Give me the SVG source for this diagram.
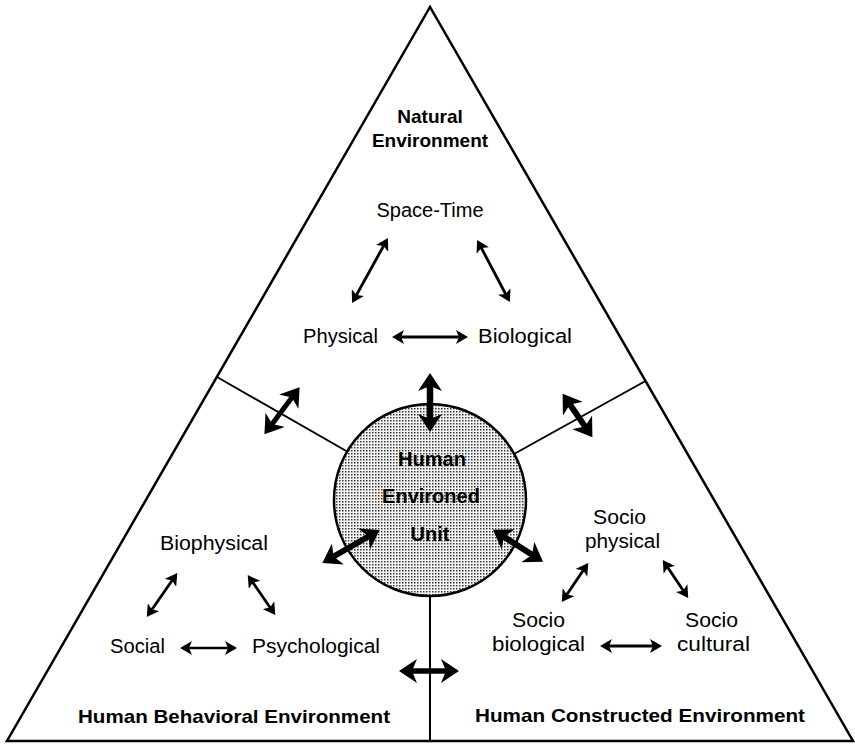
<svg xmlns="http://www.w3.org/2000/svg" width="855" height="748" viewBox="0 0 855 748">
  <style>
    .t { font-family: "Liberation Sans", Arial, sans-serif; font-size: 20px; fill: #000; }
    .b { font-family: "Liberation Sans", Arial, sans-serif; font-size: 19px; font-weight: bold; fill: #000; }
    .c { font-family: "Liberation Sans", Arial, sans-serif; font-size: 20px; font-weight: bold; fill: #000; }
    .frame { fill: none; stroke: #000; stroke-width: 2.5; stroke-linejoin: miter; }
    .div { fill: none; stroke: #000; stroke-width: 2; }
    .thin { stroke: #000; stroke-width: 2.8; fill: none; marker-start: url(#hs); marker-end: url(#hs); }
    .thick { stroke: #000; stroke-width: 6; fill: none; marker-start: url(#hb); marker-end: url(#hb); }
  </style>
  <defs>
    <marker id="hs" markerUnits="userSpaceOnUse" viewBox="0 0 12 14" markerWidth="12" markerHeight="14" refX="8" refY="7" orient="auto-start-reverse">
      <path d="M0,0 L12,7 L0,14 L3,7 Z" fill="#000"/>
    </marker>
    <marker id="hb" markerUnits="userSpaceOnUse" viewBox="0 0 18 24" markerWidth="18" markerHeight="24" refX="12" refY="12" orient="auto-start-reverse">
      <path d="M0,0 L18,12 L0,24 L5,12 Z" fill="#000"/>
    </marker>
    <pattern id="dots" patternUnits="userSpaceOnUse" width="3" height="3">
      <rect width="3" height="3" fill="#f4f4f4"/>
      <rect width="1.5" height="1.5" fill="#3a3a3a"/>
    </pattern>
  </defs>
  <rect width="855" height="748" fill="#fff"/>

  <g id="frame">
    <polygon class="frame" points="430,7 7,741 853,741"/>
    <line class="div" x1="217" y1="377" x2="348" y2="452"/>
    <line class="div" x1="645.5" y1="381" x2="514" y2="454"/>
    <line class="div" x1="430" y1="596" x2="430" y2="741"/>
  </g>

  <g id="natural-environment">
    <text class="b" x="430" y="123" text-anchor="middle">Natural</text>
    <text class="b" x="430" y="147" text-anchor="middle">Environment</text>
  </g>
  <g id="space-time">
    <text class="t" x="430" y="217" text-anchor="middle">Space-Time</text>
  </g>
  <g id="physical">
    <text class="t" x="303" y="343" textLength="75" lengthAdjust="spacingAndGlyphs">Physical</text>
  </g>
  <g id="biological">
    <text class="t" x="478" y="343" textLength="94" lengthAdjust="spacingAndGlyphs">Biological</text>
  </g>

  <g id="human-environed-unit">
    <circle cx="430" cy="500" r="96" fill="url(#dots)" stroke="#000" stroke-width="2.5"/>
    <text class="c" x="432" y="466" text-anchor="middle">Human</text>
    <text class="c" x="431" y="503" text-anchor="middle">Environed</text>
    <text class="c" x="430" y="541" text-anchor="middle">Unit</text>
  </g>

  <g id="biophysical">
    <text class="t" x="160" y="550" textLength="108" lengthAdjust="spacingAndGlyphs">Biophysical</text>
  </g>
  <g id="social">
    <text class="t" x="110" y="653" textLength="55" lengthAdjust="spacingAndGlyphs">Social</text>
  </g>
  <g id="psychological">
    <text class="t" x="252" y="653" textLength="128" lengthAdjust="spacingAndGlyphs">Psychological</text>
  </g>
  <g id="human-behavioral-environment">
    <text class="b" x="78" y="723" textLength="312" lengthAdjust="spacingAndGlyphs">Human Behavioral Environment</text>
  </g>

  <g id="socio-physical">
    <text class="t" x="593" y="524" textLength="53" lengthAdjust="spacingAndGlyphs">Socio</text>
    <text class="t" x="585" y="548" textLength="75" lengthAdjust="spacingAndGlyphs">physical</text>
  </g>
  <g id="socio-biological">
    <text class="t" x="512" y="627" textLength="53" lengthAdjust="spacingAndGlyphs">Socio</text>
    <text class="t" x="492" y="651" textLength="93" lengthAdjust="spacingAndGlyphs">biological</text>
  </g>
  <g id="socio-cultural">
    <text class="t" x="685" y="627" textLength="53" lengthAdjust="spacingAndGlyphs">Socio</text>
    <text class="t" x="677" y="651" textLength="73" lengthAdjust="spacingAndGlyphs">cultural</text>
  </g>
  <g id="human-constructed-environment">
    <text class="b" x="475" y="722" textLength="330" lengthAdjust="spacingAndGlyphs">Human Constructed Environment</text>
  </g>

  <g id="connectors">
    <line class="thin" x1="386" y1="241.5" x2="354" y2="299.5"/>
    <line class="thin" x1="479" y1="243.5" x2="508" y2="298.5"/>
    <line class="thin" x1="396" y1="337" x2="464" y2="337"/>
    <line class="thin" x1="175" y1="576.3" x2="149" y2="613.7"/>
    <line class="thin" x1="250" y1="578.3" x2="273" y2="611.7"/>
    <line class="thin" x1="184" y1="648" x2="233" y2="648" style="stroke-width:2.4"/>
    <line class="thin" x1="586" y1="566.3" x2="564" y2="598.7"/>
    <line class="thin" x1="665" y1="563.3" x2="686" y2="594.7"/>
    <line class="thin" x1="604" y1="646" x2="658" y2="646"/>
    <line class="thick" x1="430" y1="379" x2="430" y2="426" style="stroke-width:6.5"/>
    <line class="thick" x1="296" y1="392" x2="268" y2="429.5" style="stroke-width:5"/>
    <line class="thick" x1="566" y1="398.8" x2="589" y2="432.2"/>
    <line class="thick" x1="374.5" y1="533" x2="327.5" y2="560"/>
    <line class="thick" x1="498" y1="533" x2="538" y2="558.5"/>
    <line class="thick" x1="405" y1="671" x2="453" y2="671" style="stroke-width:5.5"/>
  </g>
</svg>
